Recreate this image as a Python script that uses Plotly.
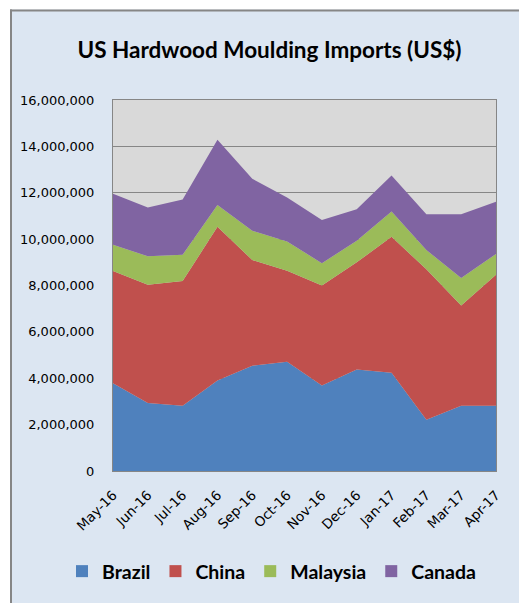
import plotly.graph_objects as go

months = ["May-16", "Jun-16", "Jul-16", "Aug-16", "Sep-16", "Oct-16",
          "Nov-16", "Dec-16", "Jan-17", "Feb-17", "Mar-17", "Apr-17"]
brazil = [3780000, 2930000, 2810000, 3900000, 4540000, 4710000,
          3690000, 4380000, 4240000, 2210000, 2810000, 2810000]
china = [4840000, 5100000, 5380000, 6630000, 4560000, 3930000,
         4310000, 4620000, 5860000, 6490000, 4330000, 5650000]
malaysia = [1140000, 1230000, 1140000, 940000, 1260000, 1260000,
            960000, 930000, 1090000, 830000, 1180000, 900000]
canada = [2200000, 2100000, 2380000, 2820000, 2240000, 1890000,
          1870000, 1360000, 1550000, 1540000, 2750000, 2250000]

series = [("Brazil", brazil, "#4F81BD"), ("China", china, "#C0504D"),
          ("Malaysia", malaysia, "#9BBB59"), ("Canada", canada, "#8064A2")]

fig = go.Figure()
for name, vals, col in series:
    fig.add_trace(go.Scatter(x=months, y=vals, name=name, stackgroup="one",
                             mode="none", fillcolor=col, showlegend=False,
                             hoverinfo="x+y+name"))
for name, vals, col in series:
    fig.add_trace(go.Scatter(x=[None], y=[None], name="<b>" + name + "</b>", mode="markers",
                             marker=dict(symbol="square", size=12, color=col),
                             showlegend=True))

# page body has an 8px margin, so figure coords = reference coords - 8
OFF = 8
W, H = 527 - OFF, 603 - OFF
L, R, T, B = 113 - OFF, 31, 100 - OFF, 130
pw, ph = W - L - R, H - T - B

def px(X):
    return (X - OFF - L) / pw

def py(Y):
    return (H - B - (Y - OFF)) / ph

grey = "#868686"
shapes = [
    dict(type="rect", xref="paper", yref="paper", x0=px(-20), x1=px(10), y0=py(640), y1=py(-20),
         fillcolor="white", line=dict(width=0), layer="below"),
    dict(type="rect", xref="paper", yref="paper", x0=px(-20), x1=px(560), y0=py(9), y1=py(-20),
         fillcolor="white", line=dict(width=0), layer="below"),
    dict(type="line", xref="paper", yref="paper", x0=px(11), x1=px(11), y0=py(9), y1=py(640),
         line=dict(color=grey, width=2), layer="below"),
    dict(type="line", xref="paper", yref="paper", x0=px(10), x1=px(560), y0=py(10), y1=py(10),
         line=dict(color=grey, width=2), layer="below"),
]

fig.update_layout(
    width=W, height=H,
    margin=dict(l=L, r=R, t=T, b=B, pad=0),
    paper_bgcolor="#DCE6F2",
    plot_bgcolor="#D9D9D9",
    font=dict(family="DejaVu Sans"),
    shapes=shapes,
    title=dict(text="<b>US Hardwood Moulding Imports (US$)</b>", xref="container", yref="container",
               x=(269.5 - OFF) / W, xanchor="center", y=1 - (50 - OFF) / H, yanchor="middle",
               font=dict(family="Lato", size=22.5, color="#000000")),
    xaxis=dict(type="category", range=[0, 11], tickangle=-45, showgrid=False,
               showline=True, linecolor=grey, mirror=True,
               ticks="outside", ticklen=10, tickcolor="rgba(0,0,0,0)",
               tickfont=dict(family="DejaVu Sans", size=13.5, color="#000000")),
    yaxis=dict(range=[0, 16000000], dtick=2000000, tickformat=",d", showgrid=True,
               gridcolor=grey, gridwidth=1, showline=True, linecolor=grey, mirror=True,
               ticks="outside", ticklen=15, tickcolor="rgba(0,0,0,0)", zeroline=False,
               tickfont=dict(family="DejaVu Sans", size=13, color="#000000")),
    legend=dict(orientation="h", x=px(62), xref="paper", xanchor="left",
                y=py(574), yref="paper", yanchor="middle",
                bgcolor="rgba(0,0,0,0)", itemwidth=30, traceorder="normal",
                font=dict(family="Lato", size=19.5, color="#000000"),
                itemclick=False),
    hovermode="x",
)

fig.write_html("out.html")
